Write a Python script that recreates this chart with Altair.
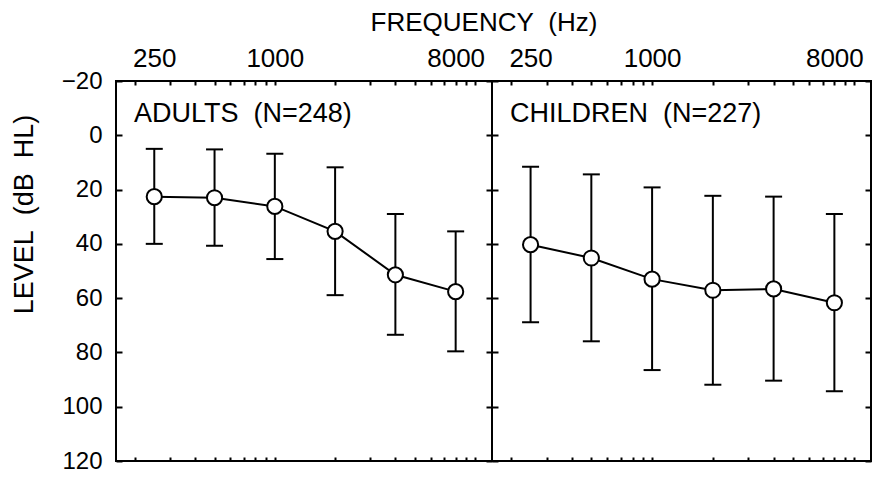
import altair as alt
import pandas as pd

FONT = "Liberation Sans"
NB = "\u00a0"

freqs = [250, 500, 1000, 2000, 4000, 8000]
adult_mean = [22.6, 23.0, 26.2, 35.4, 51.4, 57.6]
adult_top = [5.0, 5.2, 6.8, 11.8, 29.0, 35.4]
adult_bottom = [40.0, 40.7, 45.6, 58.9, 73.5, 79.6]
child_mean = [40.3, 45.2, 53.0, 57.1, 56.6, 61.7]
child_top = [11.6, 14.4, 19.2, 22.3, 22.6, 29.0]
child_bottom = [68.9, 75.9, 86.5, 91.9, 90.4, 94.3]

x_labels = [250, 1000, 8000]
x_minor = [200, 300, 400, 500, 600, 700, 800, 900, 1000,
           2000, 3000, 4000, 5000, 6000, 7000, 8000, 9000, 10000]
y_ticks = [-20, 0, 20, 40, 60, 80, 100, 120]

xs = alt.Scale(type="log", domain=[161, 12150], nice=False)
ys = alt.Scale(domain=[-20, 120], reverse=True, nice=False, zero=False)

IN6 = alt.ExprRef("-6")
IN4 = alt.ExprRef("-4")


def panel(mean, top, bottom, label, first, width):
    df = pd.DataFrame({"freq": freqs, "mean": mean, "top": top, "bottom": bottom})
    base = alt.Chart(df)

    x_lab_axis = alt.Axis(orient="top", values=x_labels, ticks=False, domain=False,
                          grid=False, title=None, labelFont=FONT, labelFontSize=26,
                          labelColor="black", labelPadding=10, format="d", labelFlush=False)
    if first:
        y_axis = alt.Axis(orient="left", values=y_ticks, tickSize=IN6, tickWidth=2,
                          tickColor="black", domain=False, grid=False, labelFont=FONT,
                          labelFontSize=24, labelColor="black", labelPadding=20,
                          title="LEVEL" + NB + NB + "(dB" + NB + NB + "HL)", titleFont=FONT,
                          titleFontSize=27, titleFontWeight="normal", titleColor="black",
                          titleAngle=270, titleX=-92, titleY=133, titleAlign="center",
                          titleBaseline="middle")
    else:
        y_axis = alt.Axis(orient="left", values=y_ticks, tickSize=IN6, tickWidth=2,
                          tickColor="black", domain=False, grid=False, labels=False, title=None)

    rules = base.mark_rule(color="black", strokeWidth=2).encode(
        x=alt.X("freq:Q", scale=xs, axis=x_lab_axis),
        y=alt.Y("top:Q", scale=ys, axis=y_axis),
        y2="bottom:Q",
    )
    caps_top = base.mark_tick(orient="horizontal", size=17, thickness=2, color="black", opacity=1).encode(
        x=alt.X("freq:Q", scale=xs,
                axis=alt.Axis(orient="top", values=x_minor, tickSize=IN4, tickWidth=2,
                              tickColor="black", labels=False, domain=False, grid=False, title=None)),
        y=alt.Y("top:Q", scale=ys,
                axis=alt.Axis(orient="right", values=y_ticks, tickSize=IN6, tickWidth=2,
                              tickColor="black", labels=False, domain=False, grid=False, title=None)),
    )
    caps_bot = base.mark_tick(orient="horizontal", size=17, thickness=2, color="black", opacity=1).encode(
        x=alt.X("freq:Q", scale=xs,
                axis=alt.Axis(orient="bottom", values=x_minor, tickSize=IN4, tickWidth=2,
                              tickColor="black", labels=False, domain=False, grid=False, title=None)),
        y=alt.Y("bottom:Q", scale=ys, axis=None),
    )
    line = base.mark_line(color="black", strokeWidth=2).encode(
        x=alt.X("freq:Q", scale=xs, axis=None),
        y=alt.Y("mean:Q", scale=ys, axis=None),
    )
    pts = base.mark_point(shape="circle", filled=True, fill="white", stroke="black",
                          strokeWidth=2, size=230, opacity=1).encode(
        x=alt.X("freq:Q", scale=xs, axis=None),
        y=alt.Y("mean:Q", scale=ys, axis=None),
    )
    txt = alt.Chart(pd.DataFrame({"label": [label]})).mark_text(
        align="left", baseline="alphabetic", font=FONT, fontSize=27, color="black"
    ).encode(text="label:N", x=alt.value(18), y=alt.value(41))

    return alt.layer(rules, caps_top, caps_bot, line, pts, txt).resolve_axis(
        x="independent", y="independent"
    ).properties(width=width, height=380)


p1 = panel(adult_mean, adult_top, adult_bottom, "ADULTS" + NB + NB + "(N=248)", True, 376)
p2 = panel(child_mean, child_top, child_bottom, "CHILDREN" + NB + NB + "(N=227)", False, 379)

chart = alt.hconcat(p1, p2, spacing=0, bounds="flush").properties(
    title=alt.TitleParams("FREQUENCY" + NB + NB + "(Hz)", anchor="middle", frame="group",
                          font=FONT, fontSize=26, fontWeight="normal", color="black",
                          offset=8, dx=368),
    padding={"left": 1, "top": 2, "right": 0, "bottom": 1},
).configure_view(stroke="black", strokeWidth=2)

chart.save("out.html", embed_options={"renderer": "svg", "actions": False})
